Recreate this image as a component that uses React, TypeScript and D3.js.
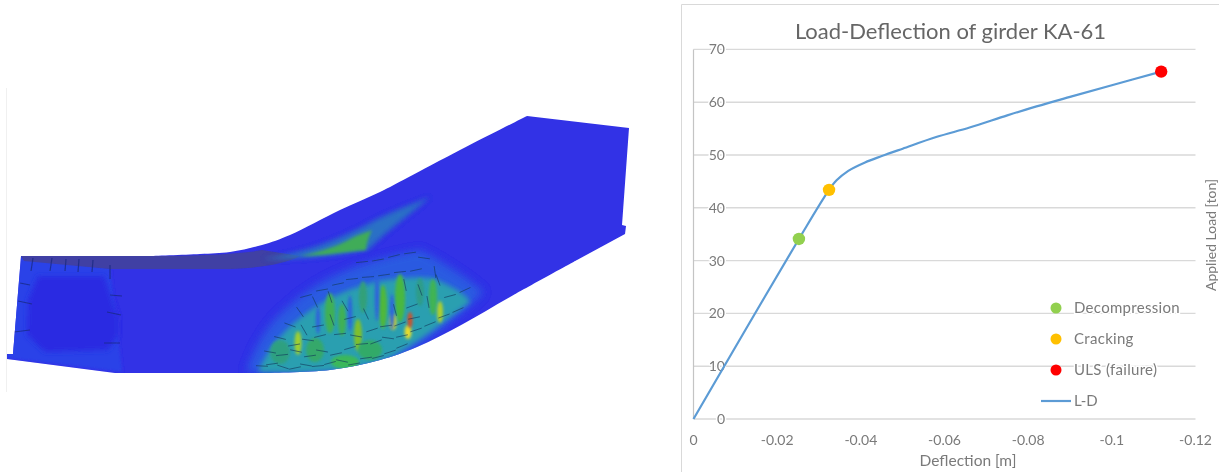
import React from "react";
import * as d3 from "d3";

const deflection = [0, -0.0125, -0.0252, -0.0324, -0.0342, -0.037, -0.041, -0.045, -0.05, -0.058, -0.066, -0.075, -0.082, -0.09, -0.1, -0.1118];
const load = [0, 17, 34.1, 43.4, 45.2, 47, 48.6, 49.8, 51.2, 53.4, 55.2, 57.5, 59.2, 61, 63.2, 65.8];
const xTicks = [0, -0.02, -0.04, -0.06, -0.08, -0.1, -0.12];
const xTickLabels = ["0", "-0.02", "-0.04", "-0.06", "-0.08", "-0.1", "-0.12"];
const yTicks = [0, 10, 20, 30, 40, 50, 60, 70];
const markerNames = ["Decompression", "Cracking", "ULS (failure)"];
const markerX = [-0.0252, -0.0324, -0.1118];
const markerY = [34.1, 43.4, 65.8];
const markerColors = ["#92d050", "#ffc000", "#ff0000"];
const seriesName = "L-D";

// Illustration: girder render, outline
const topEdge: [number, number][] = [[150, 256], [200, 254], [230, 252], [262, 245], [290, 235], [340, 210], [380, 192], [407, 178], [460, 150], [527, 116]];
const bottomEdge: [number, number][] = [[577, 260], [510, 297], [463, 324], [417, 347], [380, 360], [330, 370], [263, 373]];
const smooth = d3.line().curve(d3.curveCatmullRom);
const girderOutline = "M21,256 L" + smooth(topEdge)!.slice(1) + " L629,128 L622,225 L626,226 L625,234 L" + smooth(bottomEdge)!.slice(1) + " L115,373 L7,359 L7,354 L13,354 Z";

const flangeBand = "M21,256 L150,256 C200,256 240,254 262,250 L300,256 C285,264 260,268 230,269 L110,269 L24,261 Z";
const panelHole = "M38,276 L104,276 L118,318 L118,336 L108,350 L45,352 L27,335 L28,300 Z";
const heatZone = "M246,372 C255,345 268,322 290,305 C315,282 352,262 420,250 C445,262 470,280 484,292 C465,312 430,340 400,358 C370,372 320,375 246,372 Z";
const heatCore = "M258,372 C268,348 285,328 308,312 C335,292 380,274 432,278 C452,286 466,294 470,302 C445,322 420,340 395,355 C360,372 310,374 258,372 Z";
const streakWedge = "M262,259 C300,254 340,240 375,220 C395,210 412,204 430,197 C414,212 392,226 368,250 C340,255 300,260 262,259 Z";
const streakCore = "M300,256 C320,252 338,246 352,238 C360,234 368,232 372,230 C368,238 366,246 366,250 C345,252 320,256 300,256 Z";

const heatSpotX = [383, 400, 433, 330, 342, 363, 298, 358, 393, 440, 408, 410, 315, 420, 370, 280, 345];
const heatSpotY = [307, 298, 297, 313, 320, 297, 343, 335, 322, 312, 332, 320, 350, 292, 350, 352, 362];
const heatSpotRx = [4, 5, 4, 5, 4, 4, 3.5, 4, 3.5, 3, 3.5, 2.5, 9, 4, 12, 10, 14];
const heatSpotRy = [22, 24, 18, 20, 16, 16, 12, 16, 8, 11, 7, 8, 12, 14, 10, 12, 7];
const heatSpotColor = ["#50b83a", "#48b840", "#40b452", "#3fb055", "#3fb055", "#30a078", "#a0cf2e", "#80c02c", "#d8d82a", "#b0d02c", "#e8dc2a", "#d0502c", "#34a86a", "#2d9c88", "#32aa68", "#2fa080", "#3ab85a"];
const coolX = [350, 377, 392, 318];
const coolY = [313, 297, 312, 320];
const coolRy = [18, 24, 18, 14];

// crack glyphs: centre x, centre y, direction in degrees
const crackX = [262, 272, 283, 295, 306, 318, 330, 342, 354, 366, 378, 390, 402, 270, 282, 296, 310, 322, 336, 350, 362, 376, 388, 402, 416, 430, 444, 458, 280, 294, 308, 320, 340, 356, 372, 386, 400, 414, 290, 304, 318, 332, 350, 366, 395, 412, 428, 306, 322, 338, 352, 368, 384, 400, 416, 362, 378, 394, 410, 424, 438, 300, 315, 330, 345, 405, 420, 435, 450, 465];
const crackY = [366, 364, 367, 368, 365, 366, 363, 361, 364, 358, 357, 352, 346, 352, 355, 351, 356, 351, 354, 348, 344, 342, 338, 336, 330, 324, 316, 310, 338, 345, 340, 336, 334, 336, 330, 326, 324, 318, 325, 330, 326, 320, 318, 314, 310, 306, 302, 296, 290, 284, 279, 277, 275, 272, 270, 262, 260, 256, 253, 258, 280, 312, 302, 297, 306, 285, 290, 272, 296, 290];
const crackA = [3, -8, 18, -12, 10, -5, -15, 12, -10, -8, -14, -18, -22, 10, -6, 12, -8, 10, -12, -16, -5, -20, 8, -12, -18, -22, -20, -24, 14, -10, 8, -14, -6, 10, -18, -8, -20, -12, 20, 60, -10, 70, -14, 65, 75, -20, 80, -15, -10, -12, -6, -4, -8, -6, -12, -6, -10, -14, -8, 8, 70, 55, 65, 72, 60, 78, 70, 82, -15, -25];
const frameTicks = [
  "M33,258 L31,271", "M52,258 L50,271", "M66,259 L65,271", "M79,259 L78,272", "M93,260 L92,272", "M110,265 L110,279",
  "M20,283 L30,285", "M18,301 L32,304", "M14,332 L30,330", "M110,295 L122,296", "M107,312 L121,315", "M104,343 L120,343",
];

const W = 1219;
const H = 472;
const x = d3.scaleLinear().domain([0, -0.12]).range([693.5, 1195.5]);
const y = d3.scaleLinear().domain([0, 70]).range([419, 49.4]);
const linePath = d3.line<number>().x((d) => x(d)).y((_, i) => y(load[i])).curve(d3.curveCatmullRom)(deflection) ?? "";

const font = "Lato, 'Open Sans', sans-serif";
const grey = "#7a7a7a";

export default function App() {
  return (
    <svg width={W} height={H} style={{ position: "absolute", left: 0, top: 0, display: "block", background: "#fff" }} fontFamily={font}>
      <defs>
        <clipPath id="g"><path d={girderOutline} /></clipPath>
        <filter id="b05" x="-5%" y="-5%" width="110%" height="110%"><feGaussianBlur stdDeviation="0.6" /></filter>
        <filter id="b1" x="-60%" y="-30%" width="220%" height="160%"><feGaussianBlur stdDeviation="1.4" /></filter>
        <filter id="b3" x="-30%" y="-30%" width="160%" height="160%"><feGaussianBlur stdDeviation="4" /></filter>
        <filter id="b2" x="-30%" y="-30%" width="160%" height="160%"><feGaussianBlur stdDeviation="2.5" /></filter>
        <filter id="t" x="-5%" y="-5%" width="110%" height="110%"><feGaussianBlur stdDeviation="0.45" /></filter>
      </defs>

      {/* left illustration */}
      <line x1={6.5} x2={6.5} y1={88} y2={392} stroke="#f0f0f0" />
      <g filter="url(#b05)">
        <path d={girderOutline} fill="#3030e6" />
        <g clipPath="url(#g)">
          <path d="M21,256 L110,268 L122,372 L7,358 Z" fill="#2c42e8" filter="url(#b1)" />
          <path d={panelHole} fill="#2a2ae2" filter="url(#b2)" />
          <path d={flangeBand} fill="#3f3fa4" />
          <path d={streakWedge} fill="#2c7cc0" filter="url(#b2)" opacity={0.85} />
          <path d={streakCore} fill="#40ac58" filter="url(#b1)" />
          <path d={heatZone} fill="#2a66e0" filter="url(#b3)" opacity={0.8} />
          <path d={heatCore} fill="#2c9fb0" filter="url(#b2)" />
          {heatSpotX.map((cx, i) => (
            <ellipse key={i} cx={cx} cy={heatSpotY[i]} rx={heatSpotRx[i]} ry={heatSpotRy[i]} fill={heatSpotColor[i]} filter="url(#b1)" />
          ))}
          {coolX.map((cx, i) => (
            <ellipse key={i} cx={cx} cy={coolY[i]} rx={2.2} ry={coolRy[i]} fill="#2f62dc" filter="url(#b1)" />
          ))}
          {crackX.map((cx, i) => {
            const a = (crackA[i] * Math.PI) / 180;
            const dx = 6 * Math.cos(a);
            const dy = 6 * Math.sin(a);
            return <line key={i} x1={cx - dx} y1={crackY[i] - dy} x2={cx + dx} y2={crackY[i] + dy} stroke="#143a5c" strokeWidth={0.9} opacity={0.7} />;
          })}
          {frameTicks.map((d, i) => (
            <path key={i} d={d} fill="none" stroke="#1a2a80" strokeWidth={1.2} opacity={0.75} />
          ))}
        </g>
      </g>

      {/* chart */}
      <g filter="url(#t)">
        <path d="M681.5,472 L681.5,4.5 L1219,4.5" fill="none" stroke="#d9d9d9" />
        {yTicks.map((t) => (
          <line key={t} x1={693.5} x2={1195.5} y1={y(t)} y2={y(t)} stroke="#d9d9d9" strokeWidth={1.4} />
        ))}
        <line x1={693.5} x2={693.5} y1={y(70)} y2={y(0)} stroke="#c4c4c4" strokeWidth={1.2} />
        {yTicks.map((t) => (
          <text key={t} x={725} y={y(t) + 5} textAnchor="end" fontSize={14} fill={grey} stroke="#fff" strokeWidth={3} paintOrder="stroke">{t}</text>
        ))}
        {xTicks.map((t, i) => (
          <text key={t} x={x(t)} y={445} textAnchor="middle" fontSize={14} fill={grey}>{xTickLabels[i]}</text>
        ))}
        <text x={950.5} y={39} textAnchor="middle" fontSize={22} fill="#666">Load-Deflection of girder KA-61</text>
        <text x={968} y={466} textAnchor="middle" fontSize={15.5} fill={grey}>Deflection [m]</text>
        <text transform="translate(1216,235) rotate(-90)" textAnchor="middle" fontSize={14} fill={grey}>Applied Load [ton]</text>

        {markerNames.map((n, i) => (
          <g key={n}>
            <circle cx={1056} cy={[308, 339, 370][i]} r={5.5} fill={markerColors[i]} />
            <text x={1074} y={[312, 343, 374][i] + 1} fontSize={15} fill={grey} stroke="#fff" strokeWidth={3} paintOrder="stroke" letterSpacing={0.3}>{n}</text>
          </g>
        ))}
        <line x1={1041} x2={1071} y1={401} y2={401} stroke="#5b9bd5" strokeWidth={2.2} />
        <text x={1074} y={406} fontSize={15} fill={grey}>{seriesName}</text>

        <path d={linePath} fill="none" stroke="#5b9bd5" strokeWidth={2.2} />
        {markerX.map((d, i) => (
          <circle key={i} cx={x(d)} cy={y(markerY[i])} r={6.2} fill={markerColors[i]} />
        ))}
      </g>
    </svg>
  );
}
